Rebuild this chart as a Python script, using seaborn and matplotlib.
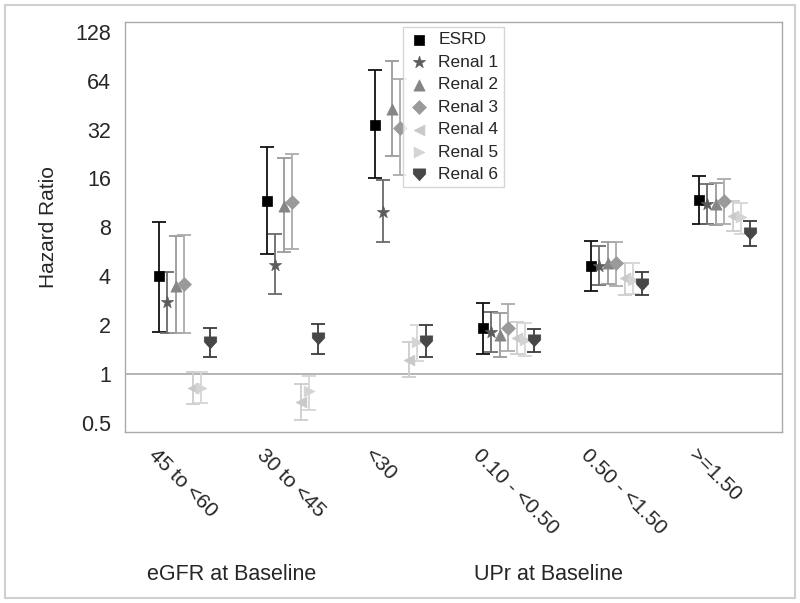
import numpy as np
import pandas as pd
import matplotlib
matplotlib.use("Agg")
import matplotlib.pyplot as plt
from matplotlib.patches import Rectangle
import seaborn as sns

# categories on the x axis
categories = ["45 to <60", "30 to <45", "<30", "0.10 - <0.50", "0.50 - <1.50", ">=1.50"]
series = ["ESRD", "Renal 1", "Renal 2", "Renal 3", "Renal 4", "Renal 5", "Renal 6"]

# hazard ratios, one row per series
hazard = [
    [4.0, 11.6, 34.3, 1.91, 4.65, 11.8],
    [2.76, 4.7, 9.9, 1.80, 4.65, 11.1],
    [3.5, 10.8, 43.0, 1.73, 4.85, 11.1],
    [3.6, 11.4, 32.9, 1.91, 4.85, 11.6],
    [0.82, 0.67, 1.22, 1.66, 3.87, 9.4],
    [0.82, 0.78, 1.57, 1.62, 3.80, 9.2],
    [1.57, 1.66, 1.59, 1.61, 3.60, 7.4],
]
ci_low = [
    [1.80, 5.5, 16.0, 1.32, 3.26, 8.4],
    [1.78, 3.1, 6.5, 1.36, 3.55, 8.4],
    [1.78, 5.6, 21.9, 1.27, 3.60, 8.3],
    [1.78, 5.9, 16.7, 1.38, 3.50, 8.4],
    [0.65, 0.52, 0.96, 1.32, 3.08, 7.6],
    [0.66, 0.60, 1.20, 1.28, 3.10, 7.3],
    [1.27, 1.33, 1.27, 1.36, 3.04, 6.15],
]
ci_high = [
    [8.6, 24.9, 74.5, 2.72, 6.6, 16.5],
    [4.27, 7.3, 15.6, 2.40, 6.15, 14.7],
    [7.1, 21.3, 84.5, 2.36, 6.5, 14.9],
    [7.2, 22.5, 65.6, 2.68, 6.5, 15.8],
    [1.03, 0.86, 1.57, 2.08, 4.85, 11.6],
    [1.03, 0.97, 2.00, 2.05, 4.80, 11.3],
    [1.91, 2.02, 2.00, 1.88, 4.27, 8.75],
]
y_ticks = [0.5, 1, 2, 4, 8, 16, 32, 64, 128]
y_tick_labels = ["0.5", "1", "2", "4", "8", "16", "32", "64", "128"]
group_labels = ["eGFR at Baseline", "UPr at Baseline"]

marker_colors = ["#000000", "#5c5c5c", "#858585", "#9a9a9a", "#c9c9c9", "#d4d4d4", "#474747"]
bar_colors = ["#111111", "#6a6a6a", "#9a9a9a", "#ababab", "#cdcdcd", "#d6d6d6", "#3c3c3c"]
shield = [(-1, 0.9), (1, 0.9), (1, 0.1), (0, -1), (-1, 0.1), (-1, 0.9)]
marker_list = ["s", "*", "^", "D", "<", ">", shield]
marker_sizes = [60, 85, 65, 50, 60, 60, 80]
step = 0.079

rows = []
for i, name in enumerate(series):
    for j, cat in enumerate(categories):
        rows.append({"series": name, "x": j + i * step, "hr": hazard[i][j],
                     "lo": ci_low[i][j], "hi": ci_high[i][j]})
df = pd.DataFrame(rows)

sns.set_style("white")
plt.rcParams["font.family"] = ["Liberation Sans", "DejaVu Sans"]

fig = plt.figure(figsize=(8, 6.03), dpi=100)
ax = fig.add_axes([0.156, 0.284, 0.8215, 0.6795])

ax.axhline(1, color="#a8a8a8", lw=1.2, zorder=1)

for i, name in enumerate(series):
    d = df[df["series"] == name]
    ax.errorbar(d["x"], d["hr"], yerr=[d["hr"] - d["lo"], d["hi"] - d["hr"]],
                fmt="none", ecolor=bar_colors[i], elinewidth=1.3, capsize=5,
                capthick=1.3, zorder=2)
    sns.scatterplot(data=d, x="x", y="hr", marker=marker_list[i], s=marker_sizes[i],
                    color=marker_colors[i], edgecolor=marker_colors[i], linewidth=0.5,
                    label=name, ax=ax, zorder=3)

ax.set_yscale("log", base=2)
ax.set_yticks(y_ticks)
ax.set_yticklabels(y_tick_labels, fontsize=15.5)
ax.minorticks_off()
ax.set_ylim(0.44, 147)
ax.set_xlim(-0.315, 5.77)
ax.set_xticks(range(len(categories)))
ax.set_xticklabels(categories, rotation=-45, ha="left", va="top",
                   rotation_mode="anchor", fontsize=15)
ax.set_xlabel("")
ax.set_ylabel("Hazard Ratio", fontsize=15, labelpad=12)
ax.tick_params(axis="both", direction="out", length=6, width=1, color="#999999",
               pad=4)
for s in ax.spines.values():
    s.set_color("#aaaaaa")
    s.set_linewidth(1)

leg = ax.legend(loc="upper left", bbox_to_anchor=(0.424, 0.988), fontsize=12.5,
                frameon=True, fancybox=False, edgecolor="#cccccc",
                labelspacing=0.42, handletextpad=0.5, borderpad=0.3,
                handlelength=1.2, borderaxespad=0)

fig.text(232 / 800, 1 - 575 / 603, group_labels[0], ha="center", va="center", fontsize=15.5)
fig.text(548 / 800, 1 - 575 / 603, group_labels[1], ha="center", va="center", fontsize=15.5)

fig.patches.append(Rectangle((0.006, 0.008), 0.988, 0.984, transform=fig.transFigure,
                             fill=False, edgecolor="#d0d0d0", lw=1.5))

fig.savefig("out.png", dpi=100)
